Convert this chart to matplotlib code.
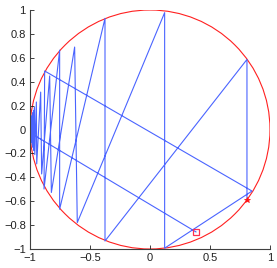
import numpy as np
import matplotlib
matplotlib.use("Agg")
from matplotlib import pyplot as plt
from matplotlib.patches import Circle

# iterate path (start at the square, end at the star)
path_x = [0.383, -0.995, -0.998, -0.997, -0.997, -0.996, -0.995, -0.994, -0.993,
          -0.992, -0.990, -0.989, -0.987, -0.985, -0.982, -0.980, -0.977, -0.975,
          -0.971, -0.968, -0.963, -0.960, -0.947, -0.944, -0.911, -0.903, -0.836,
          -0.822, -0.628, -0.606, 0.122, 0.122, 0.850, -0.878, -0.883, -0.753,
          -0.753, -0.375, -0.375, 0.808, 0.808]
path_y = [-0.857, -0.030, 0.030, -0.040, 0.045, -0.050, 0.060, -0.065, 0.075,
          -0.080, 0.090, -0.095, 0.105, -0.110, 0.120, -0.130, 0.140, -0.150,
          0.160, -0.175, 0.185, -0.210, 0.230, -0.288, 0.313, -0.372, 0.448,
          -0.527, 0.690, -0.779, 0.978, -0.993, -0.515, 0.490, -0.498, 0.664,
          -0.667, 0.930, -0.933, 0.586, -0.590]

start_pt = (0.383, -0.857)
end_pt = (0.808, -0.590)

x_ticks = [-1, -0.5, 0, 0.5, 1]
y_ticks = [-1, -0.8, -0.6, -0.4, -0.2, 0, 0.2, 0.4, 0.6, 0.8, 1]

plt.rcParams['font.family'] = ['Liberation Sans', 'DejaVu Sans']

fig = plt.figure(figsize=(2.77, 2.68), dpi=100)
ax = fig.add_axes([30 / 277, 19 / 268, 240 / 277, 239 / 268])

ax.add_patch(Circle((0, 0), 1, fill=False, edgecolor='#ff2020', linewidth=0.8))
ax.plot(path_x, path_y, color='#4a64ff', linewidth=0.8)
ax.plot(start_pt[0], start_pt[1], marker='s', markersize=4, markerfacecolor='none',
        markeredgecolor='#ff3050', markeredgewidth=0.9)
ax.plot(end_pt[0], end_pt[1], marker='*', markersize=4, color='#ff1010',
        markeredgewidth=0.5)

ax.set_xlim(-1, 1)
ax.set_ylim(-1, 1)
ax.set_xticks(x_ticks)
ax.set_yticks(y_ticks)
ax.set_xticklabels(['\u22121', '\u22120.5', '0', '0.5', '1'])
ax.set_yticklabels(['\u22121', '\u22120.8', '\u22120.6', '\u22120.4', '\u22120.2',
                    '0', '0.2', '0.4', '0.6', '0.8', '1'])
ax.spines['top'].set_visible(False)
ax.spines['right'].set_visible(False)
for s in ['left', 'bottom']:
    ax.spines[s].set_color('#404040')
    ax.spines[s].set_linewidth(0.8)
ax.tick_params(direction='in', length=3, width=0.6, labelsize=8, colors='#202020', pad=3)

fig.savefig("out.png", dpi=100)
